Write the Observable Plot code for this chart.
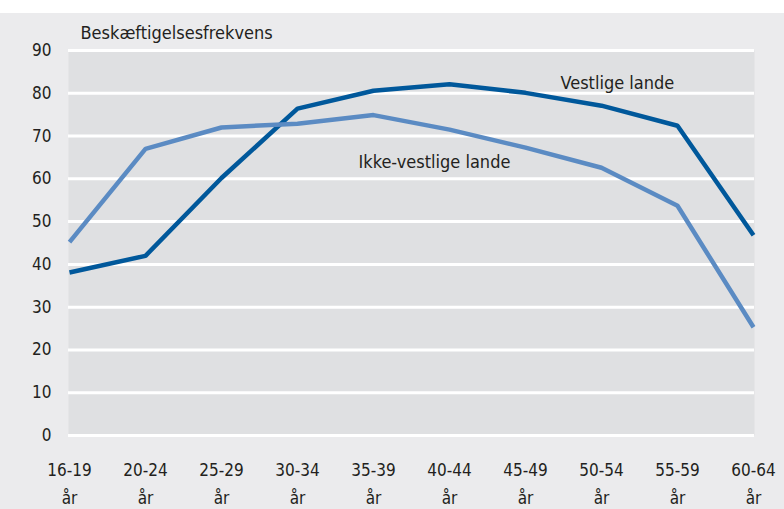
<!DOCTYPE html>
<html>
<head>
<meta charset="utf-8">
<script src="https://cdn.jsdelivr.net/npm/d3@7"></script>
<script src="https://cdn.jsdelivr.net/npm/@observablehq/plot@0.6"></script>
<style>
  html, body { margin: 0; padding: 0; background: #ffffff; }
  #top { height: 13px; background: #ffffff; }
  #chart { background: #ebebed; width: 784px; height: 496px; }
  svg { display: block; }
</style>
</head>
<body>
<div id="top"></div>
<div id="chart"></div>
<script>
const categories = ["16-19", "20-24", "25-29", "30-34", "35-39", "40-44", "45-49", "50-54", "55-59", "60-64"];
const vestlige = [38.1, 42, 60.2, 76.4, 80.6, 82.1, 80.1, 77.1, 72.4, 46.8];
const ikkeVestlige = [45.2, 67, 72, 72.9, 74.9, 71.5, 67.3, 62.6, 53.7, 25.3];
const yTicks = [0, 10, 20, 30, 40, 50, 60, 70, 80, 90];
const unitLabel = "år";
const yLabel = "Beskæftigelsesfrekvens";
const seriesNames = ["Vestlige lande", "Ikke-vestlige lande"];

const data = [
  ...categories.map((c, i) => ({cat: c, value: vestlige[i], series: seriesNames[0]})),
  ...categories.map((c, i) => ({cat: c, value: ikkeVestlige[i], series: seriesNames[1]}))
];
const font = "'Liberation Sans Narrow', 'DejaVu Sans Condensed', sans-serif";

const chart = Plot.plot({
  width: 784,
  height: 496,
  marginTop: 37,
  marginBottom: 74,
  marginLeft: 68,
  marginRight: 30,
  style: {fontFamily: font, fontSize: "17px", color: "#231f20", background: "#ebebed"},
  x: {type: "point", domain: categories, padding: 0, label: null},
  y: {domain: [0, 90], ticks: yTicks, label: null},
  color: {domain: seriesNames, range: ["#00589b", "#5b8bc3"]},
  marks: [
    Plot.frame({fill: "#dfe0e2", stroke: null}),
    Plot.ruleY(yTicks, {stroke: "#ffffff", strokeWidth: 3}),
    Plot.axisY({ticks: yTicks, tickSize: 0, tickPadding: 17, fontSize: 17, label: null}),
    Plot.axisX({tickSize: 0, tickPadding: 28, fontSize: 17, label: null, tickFormat: d => d}),
    Plot.axisX({tickSize: 0, tickPadding: 56, fontSize: 17, label: null, tickFormat: () => unitLabel}),
    Plot.line(data, {x: "cat", y: "value", z: "series", stroke: "series", strokeWidth: 4.5, strokeLinejoin: "miter", strokeLinecap: "butt"}),
    Plot.text([yLabel], {frameAnchor: "top-left", dx: 12, dy: -24, textAnchor: "start", fontSize: 18, fill: "#231f20"}),
    Plot.text([seriesNames[0]], {x: () => categories[6], y: () => 82.4, dx: 35, textAnchor: "start", fontSize: 18, fill: "#231f20"}),
    Plot.text([seriesNames[1]], {x: () => categories[4], y: () => 63.9, dx: -15, textAnchor: "start", fontSize: 18, fill: "#231f20"})
  ]
});
document.getElementById("chart").appendChild(chart);
</script>
</body>
</html>
